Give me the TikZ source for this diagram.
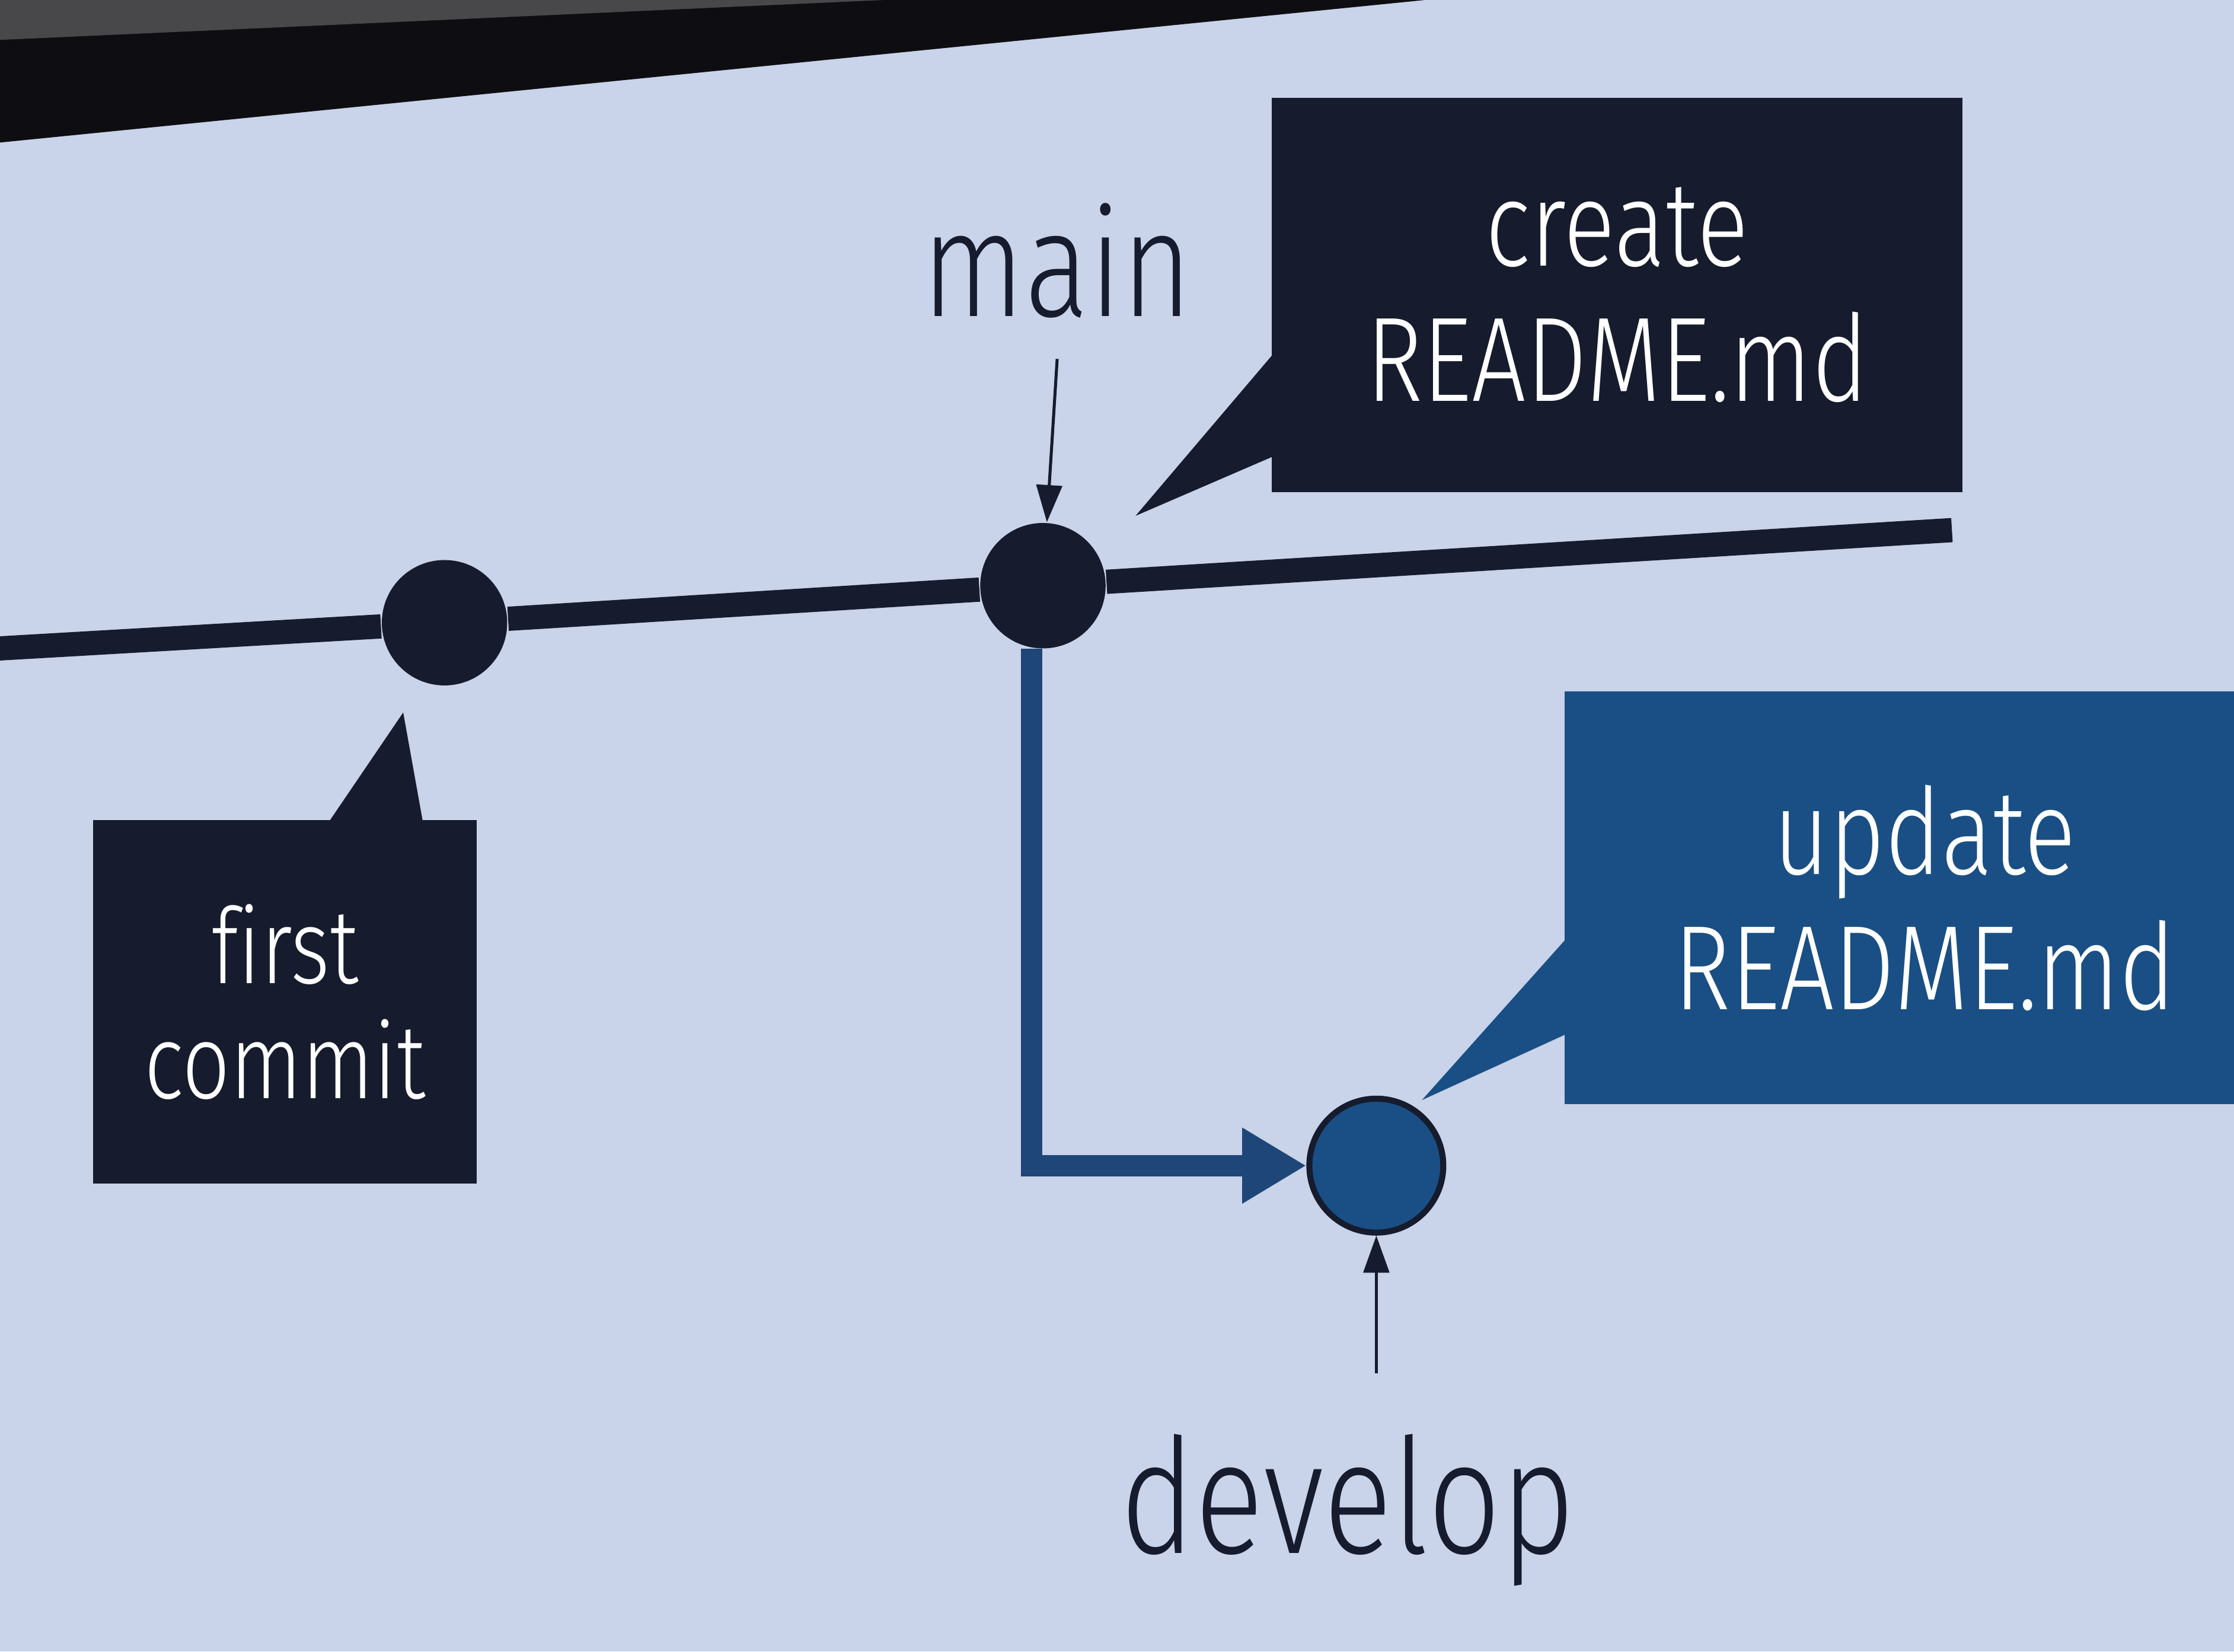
\documentclass[tikz,border=0pt]{standalone}
\usepackage{fontspec}
\setmainfont{Fira Sans Light}[FakeStretch=0.8, Ligatures={TeX,NoCommon}]
\usetikzlibrary{arrows.meta, positioning, calc}
\definecolor{screen}{RGB}{201,211,233}
\definecolor{navy}{RGB}{22,27,45}
\definecolor{gitblue}{RGB}{25,79,132}
\definecolor{branchblue}{RGB}{30,70,120}
\definecolor{bezel}{RGB}{14,14,18}
\definecolor{wall}{RGB}{72,72,74}

\begin{document}
\begin{tikzpicture}[
  commit/.style={circle, fill=navy, minimum size=8.8mm, inner sep=0pt},
  newcommit/.style={circle, fill=gitblue, draw=navy, line width=1.2pt, minimum size=9.4mm, inner sep=0pt},
  msgbox/.style={fill=navy, text=white, align=center, inner sep=0pt},
  tag/.style={text=navy, inner sep=0pt},
  track/.style={navy, line width=1.7mm},
  branch/.style={branchblue, line width=1.5mm, -{Triangle[length=4.5mm,width=5mm]}},
  ptr/.style={navy, line width=0.6pt, -{Triangle[length=2.6mm,width=1.8mm]}}
]
\useasboundingbox (0,0) rectangle (15.68,-11.59);
\fill[screen] (0,0) rectangle (15.68,-11.59);
\fill[bezel] (0,0) -- (10.0,0) -- (0,-1.0) -- cycle;
\fill[wall] (0,0) -- (6.2,0) -- (0,-0.28) -- cycle;

\node[commit] (c1) at (3.12,-4.37) {};
\node[commit] (c2) at (7.32,-4.11) {};
\node[newcommit] (c3) at (9.66,-8.18) {};

\node[msgbox, minimum width=2.69cm, minimum height=2.55cm, font=\fontsize{21}{23}\selectfont] (fbox) at (2.00,-7.03) {first\\commit};
\node[msgbox, minimum width=4.85cm, minimum height=2.77cm, font=\fontsize{24}{27}\selectfont] (cbox) at (11.35,-2.07) {create\\README.md};
\node[msgbox, fill=gitblue, minimum width=5.06cm, minimum height=2.9cm, font=\fontsize{24}{27}\selectfont] (ubox) at (13.51,-6.30) {update\\README.md};

\node[tag, anchor=base, font=\fontsize{30}{32}\selectfont] (mlabel) at (7.42,-2.22) {main};
\node[tag, anchor=base, font=\fontsize{32}{34}\selectfont] (dlabel) at (9.46,-10.90) {develop};

\coordinate (mstart) at (-0.1,-4.556);
\coordinate (mend) at (13.70,-3.72);
\coordinate (ftip) at ($(c1)+(-0.29,-0.63)$);
\coordinate (ctip) at ($(c2)+(0.65,0.49)$);
\coordinate (utip) at ($(c3)+(0.32,0.46)$);

\fill[navy] ($(fbox.north west)+(1.66,-0.02)$) -- (ftip) -- ($(fbox.north west)+(2.32,-0.02)$) -- cycle;
\fill[navy] ($(cbox.south west)+(0.02,0.98)$) -- (ctip) -- ($(cbox.south west)+(0.02,0.26)$) -- cycle;
\fill[gitblue] ($(ubox.south west)+(0.02,1.17)$) -- (utip) -- ($(ubox.south west)+(0.02,0.50)$) -- cycle;

\draw[track] (mstart) -- (c1) -- (c2) -- (mend);
\draw[branch] (c2.-100) |- (c3);
\draw[ptr] ($(mlabel.south)+(0,-0.28)$) -- (c2);
\draw[ptr] ($(dlabel.north -| c3)+(0,0.42)$) -- (c3);
\end{tikzpicture}
\end{document}
